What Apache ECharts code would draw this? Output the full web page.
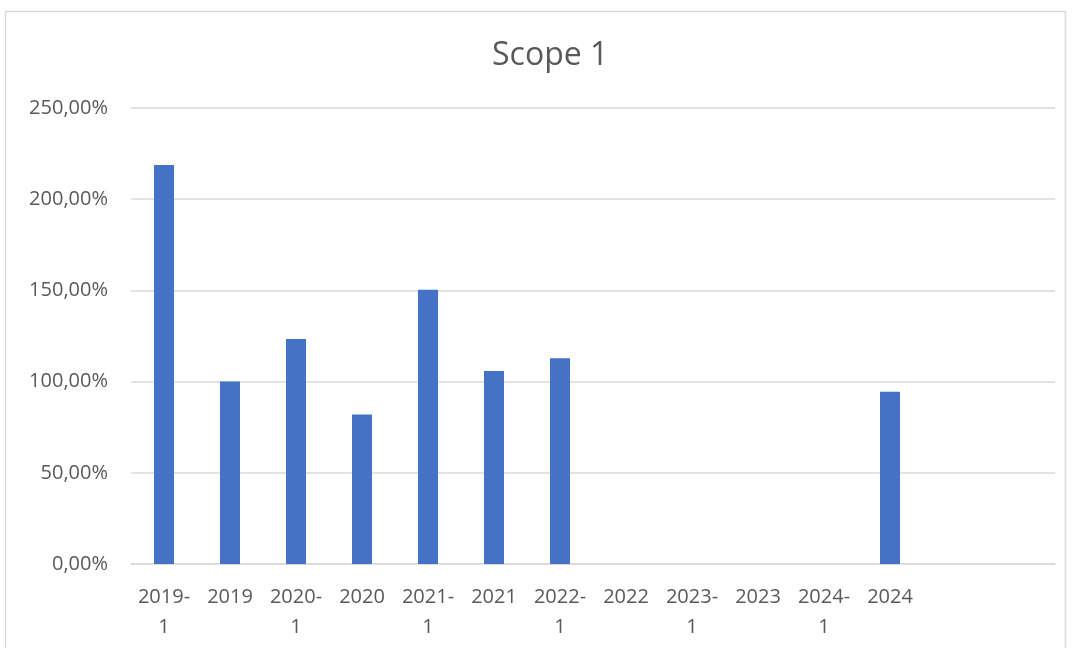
<!DOCTYPE html>
<html>
<head>
<meta charset="utf-8">
<script src="https://cdn.jsdelivr.net/npm/echarts@6/dist/echarts.min.js"></script>
<style>
html,body{margin:0;padding:0;background:#fff;}
#c{width:1072px;height:648px;}
</style>
</head>
<body>
<div id="c"></div>
<script>
const categories = ["2019-\n1","2019","2020-\n1","2020","2021-\n1","2021","2022-\n1","2022","2023-\n1","2023","2024-\n1","2024","",""];
const values = [218.8, 100.0, 123.4, 82.0, 150.4, 105.8, 112.8, null, null, null, null, 94.5, null, null];
const yTicks = { min: 0, max: 250, interval: 50 };
const titleText = "Scope 1";

const chart = echarts.init(document.getElementById('c'), null, {renderer: 'canvas'});
const FONT = '"Open Sans", "Noto Sans", sans-serif';
chart.setOption({
  animation: false,
  backgroundColor: '#fff',
  graphic: [{
    type: 'rect', left: 3, top: 9, silent: true,
    shape: {width: 1060, height: 660},
    style: {fill: 'none', stroke: '#d9d9d9', lineWidth: 1.5}
  }],
  title: {
    text: titleText, left: 487, top: 35,
    textStyle: {fontFamily: FONT, fontSize: 32, fontWeight: 'normal', color: '#595959'}
  },
  grid: {left: 131, right: 17, top: 108, bottom: 84, containLabel: false},
  xAxis: {
    type: 'category', data: categories,
    axisLine: {lineStyle: {color: '#d9d9d9', width: 1.5}},
    axisTick: {show: false},
    axisLabel: {interval: 0, margin: 18, fontFamily: FONT, fontSize: 20, lineHeight: 30, color: '#595959'}
  },
  yAxis: {
    type: 'value', min: yTicks.min, max: yTicks.max, interval: yTicks.interval,
    axisLine: {show: false}, axisTick: {show: false},
    splitLine: {lineStyle: {color: '#d9d9d9', width: 1.5}},
    axisLabel: {margin: 23, fontFamily: FONT, fontSize: 20, color: '#595959',
      formatter: v => v.toFixed(2).replace('.', ',') + '%'}
  },
  series: [{
    type: 'bar', data: values, barWidth: 20,
    itemStyle: {color: '#4472c4'}
  }]
});
</script>
</body>
</html>
